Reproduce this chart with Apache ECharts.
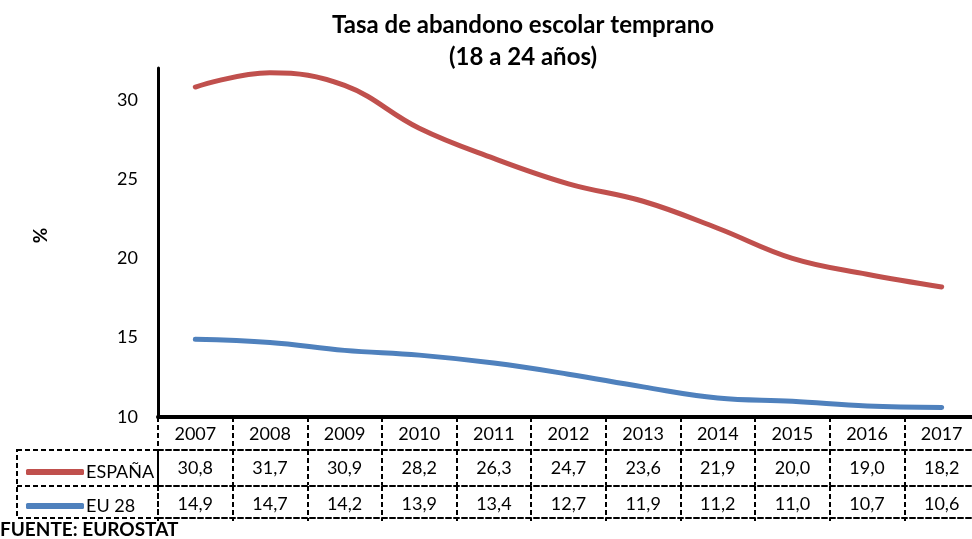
<!DOCTYPE html>
<html>
<head>
<meta charset="utf-8">
<script src="https://cdn.jsdelivr.net/npm/echarts@6/dist/echarts.min.js"></script>
<style>
  html, body { margin: 0; padding: 0; background: #fff; }
  #chart { width: 972px; height: 539px; }
</style>
</head>
<body>
<div id="chart"></div>
<script>
const years = ['2007', '2008', '2009', '2010', '2011', '2012', '2013', '2014', '2015', '2016', '2017'];
const espana = [30.8, 31.7, 30.9, 28.2, 26.3, 24.7, 23.6, 21.9, 20.0, 19.0, 18.2];
const eu28 = [14.9, 14.7, 14.2, 13.9, 13.4, 12.7, 11.9, 11.2, 11.0, 10.7, 10.6];
const yTicks = [10, 15, 20, 25, 30];

const FONT = 'Lato';
const fmt = v => v.toFixed(1).replace('.', ',');
const dashed = { color: '#000', width: 2, type: [5, 3] };

const myChart = echarts.init(document.getElementById('chart'));

function tableAxis(data, offset) {
    return {
        type: 'category',
        data: data,
        position: 'bottom',
        offset: offset,
        axisLine: { show: true, lineStyle: dashed },
        axisTick: { show: true, interval: 0, length: 35, lineStyle: dashed },
        axisLabel: { interval: 0, margin: 9, fontFamily: FONT, fontSize: 18, color: '#000' },
        splitLine: { show: false }
    };
}

const option = {
    animation: false,
    textStyle: { fontFamily: FONT },
    title: {
        text: 'Tasa de abandono escolar temprano\n(18 a 24 años)',
        left: 518,
        textAlign: 'center',
        top: 4,
        textStyle: { fontFamily: FONT, fontWeight: 'bold', fontSize: 24, lineHeight: 32, color: '#000' }
    },
    legend: {
        orient: 'vertical',
        left: 21,
        top: 457,
        itemWidth: 58,
        itemHeight: 6,
        itemGap: 14,
        icon: 'roundRect',
        textStyle: { fontFamily: FONT, fontSize: 18, color: '#000', lineHeight: 20, padding: [0, 0, 0, -3] },
        data: ['ESPAÑA', 'EU 28']
    },
    grid: { left: 158, width: 821, top: 68, height: 349, containLabel: false, outerBoundsMode: 'none' },
    xAxis: [
        {
            type: 'category',
            data: years,
            axisLine: { show: true, lineStyle: { color: '#000', width: 4 } },
            axisTick: { show: true, interval: 0, length: 33, lineStyle: dashed },
            axisLabel: { interval: 0, margin: 8, fontFamily: FONT, fontSize: 18, color: '#000' }
        },
        tableAxis(espana.map(fmt), 33),
        tableAxis(eu28.map(fmt), 69),
        {
            type: 'category',
            data: years,
            position: 'bottom',
            offset: 101,
            axisLine: { show: true, lineStyle: dashed },
            axisTick: { show: false },
            axisLabel: { show: false }
        }
    ],
    yAxis: {
        type: 'value',
        min: 10,
        max: 32,
        interval: 5,
        name: '%',
        nameLocation: 'middle',
        nameGap: 108,
        nameRotate: 90,
        nameTextStyle: { fontFamily: FONT, fontWeight: 'bold', fontSize: 19, color: '#000', padding: [0, 0, 0, 14] },
        axisLine: { show: true, lineStyle: { color: '#000', width: 3 } },
        axisTick: { show: false },
        splitLine: { show: false },
        axisLabel: {
            margin: 20, fontFamily: FONT, fontSize: 18, color: '#000',
            formatter: v => (yTicks.indexOf(v) >= 0 ? String(v) : '')
        }
    },
    graphic: [
        { type: 'rect', shape: { x: 17, y: 450, width: 141, height: 68 }, style: { fill: 'none', stroke: '#000', lineWidth: 2, lineDash: [5, 3] } },
        { type: 'line', shape: { x1: 17, y1: 486, x2: 158, y2: 486 }, style: { stroke: '#000', lineWidth: 2, lineDash: [5, 3] } },
        { type: 'text', left: 0, top: 520, style: { text: 'FUENTE: EUROSTAT', fontFamily: FONT, fontWeight: 'bold', fontSize: 19, fill: '#000' } }
    ],
    series: [
        {
            name: 'ESPAÑA',
            type: 'line',
            data: espana,
            smooth: 0.4,
            symbol: 'none',
            lineStyle: { width: 5, color: '#C0504D', cap: 'round' },
            itemStyle: { color: '#C0504D' }
        },
        {
            name: 'EU 28',
            type: 'line',
            data: eu28,
            smooth: 0.4,
            symbol: 'none',
            lineStyle: { width: 5, color: '#4F81BD', cap: 'round' },
            itemStyle: { color: '#4F81BD' }
        }
    ]
};

myChart.setOption(option);
</script>
</body>
</html>
